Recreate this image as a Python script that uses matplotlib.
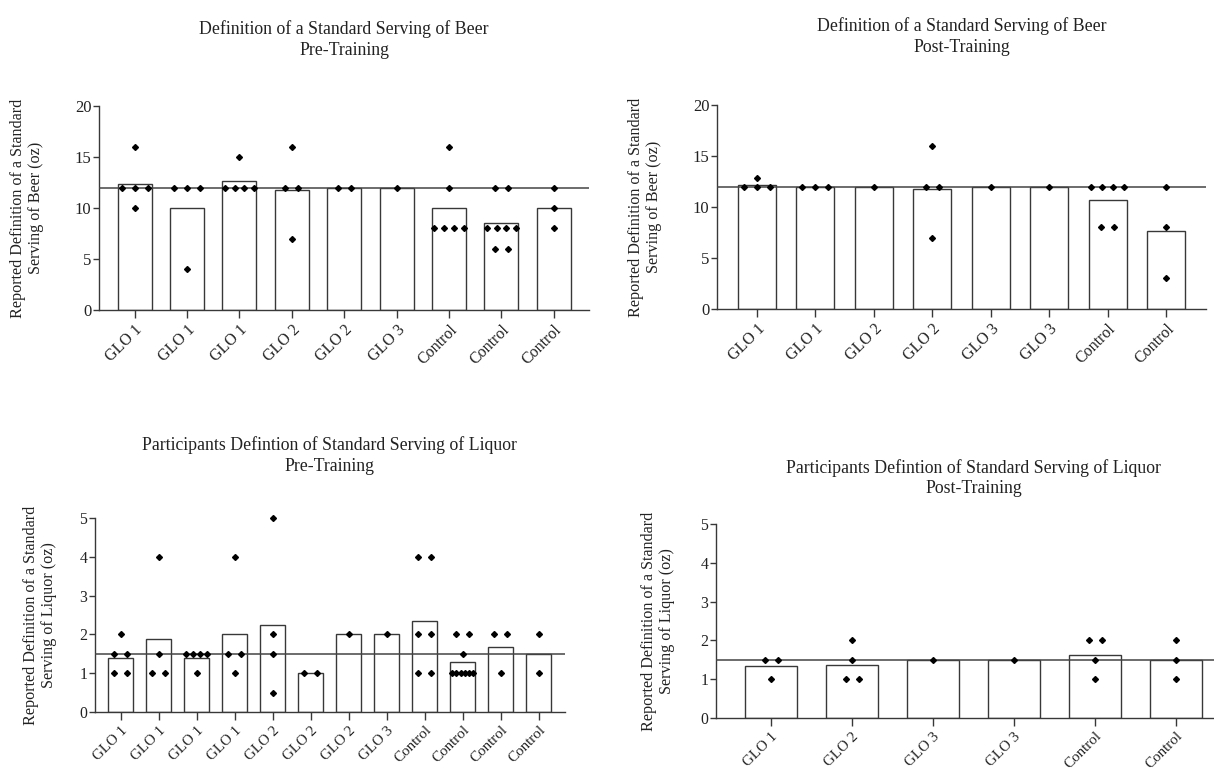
import matplotlib
matplotlib.use("Agg")
import matplotlib.pyplot as plt
import numpy as np

plt.rcParams['font.family'] = ['Liberation Serif', 'DejaVu Serif']

# ---- data ----
beer_pre_labels = ["GLO 1", "GLO 1", "GLO 1", "GLO 2", "GLO 2", "GLO 3",
                   "Control", "Control", "Control"]
beer_pre_values = [[12, 12, 12, 16, 10], [12, 12, 12, 4], [12, 12, 12, 12, 15],
                   [16, 12, 12, 7], [12, 12], [12], [16, 12, 8, 8, 8, 8],
                   [12, 12, 8, 8, 8, 8, 6, 6], [12, 10, 8]]

beer_post_labels = ["GLO 1", "GLO 1", "GLO 2", "GLO 2", "GLO 3", "GLO 3",
                    "Control", "Control"]
beer_post_values = [[12, 12, 12, 12.8], [12, 12, 12], [12], [16, 12, 12, 7],
                    [12], [12], [12, 12, 12, 12, 8, 8], [12, 8, 3]]

liquor_pre_labels = ["GLO 1", "GLO 1", "GLO 1", "GLO 1", "GLO 2", "GLO 2",
                     "GLO 2", "GLO 3", "Control", "Control", "Control", "Control"]
liquor_pre_values = [[2, 1.5, 1.5, 1, 1], [4, 1.5, 1, 1], [1.5, 1.5, 1.5, 1.5, 1],
                     [4, 1.5, 1.5, 1], [5, 2, 1.5, 0.5], [1, 1], [2], [2],
                     [4, 4, 2, 2, 1, 1], [2, 2, 1.5, 1, 1, 1, 1, 1, 1],
                     [2, 2, 1], [2, 1]]

liquor_post_labels = ["GLO 1", "GLO 2", "GLO 3", "GLO 3", "Control", "Control"]
liquor_post_values = [[1.5, 1.5, 1], [2, 1.5, 1, 1], [1.5], [1.5],
                      [2, 2, 1.5, 1], [2, 1.5, 1]]

beer_standard = 12
liquor_standard = 1.5

beer_title = "Definition of a Standard Serving of Beer"
liquor_title = "Participants Defintion of Standard Serving of Liquor"
beer_ylabel = "Reported Definition of a Standard\nServing of Beer (oz)"
liquor_ylabel = "Reported Definition of a Standard\nServing of Liquor (oz)"

W, H = 1214, 774
DARK = "#383838"
PAD = 0.68
BAR_W = 0.65


def make_ax(fig, left_px, top_px, bottom_px, n, unit_px):
    width_px = (n - 1 + 2 * PAD) * unit_px
    return fig.add_axes([left_px / W, (H - bottom_px) / H,
                         width_px / W, (bottom_px - top_px) / H])


def draw_panel(ax, labels, values, standard, ymax, ystep, unit_px,
               title, title_pad, ylabel, ylabel_x, tick_fs):
    n = len(labels)
    x = np.arange(n)
    means = [np.mean(v) for v in values]
    ax.bar(x, means, width=BAR_W, color="white", edgecolor=DARK,
           linewidth=1.0, zorder=2)

    # spread equal values side by side, like the prism scatter
    gap = 13.0 / unit_px
    cap = 0.86 * BAR_W
    for i, vals in enumerate(values):
        uniq = []
        for v in vals:
            if v not in uniq:
                uniq.append(v)
        for v in uniq:
            k = vals.count(v)
            g = gap if k < 2 else min(gap, cap / (k - 1))
            offs = (np.arange(k) - (k - 1) / 2) * g
            ax.plot(i + offs, [v] * k, linestyle="none", marker="D",
                    markersize=3.0, color="black", zorder=4, clip_on=False)

    ax.axhline(standard, color="#444444", linewidth=1.1, zorder=3)
    ax.set_xlim(-PAD, n - 1 + PAD)
    ax.set_ylim(0, ymax)
    ax.set_yticks(np.arange(0, ymax + ystep / 2, ystep))
    ax.set_xticks(x)
    ax.set_xticklabels(labels, rotation=45, ha="right",
                       rotation_mode="anchor", fontsize=tick_fs, color="#222222")
    for lab in ax.get_yticklabels():
        lab.set_fontsize(tick_fs + 0.5)
        lab.set_color("#222222")
    for s in ["top", "right"]:
        ax.spines[s].set_visible(False)
    for s in ["left", "bottom"]:
        ax.spines[s].set_color(DARK)
        ax.spines[s].set_linewidth(1.0)
    ax.tick_params(axis="y", direction="out", length=4.5, width=1.0,
                   color=DARK, pad=1)
    ax.tick_params(axis="x", direction="out", length=5.5, width=1.0,
                   color=DARK, pad=3)
    ax.set_title(title, fontsize=12.8, pad=title_pad, linespacing=1.3,
                 color="#222222")
    ax.set_ylabel(ylabel, fontsize=11.6, linespacing=1.15, color="#222222")
    ax.yaxis.set_label_coords(ylabel_x, 0.5)


fig = plt.figure(figsize=(W / 100, H / 100), dpi=100)
fig.patch.set_facecolor("white")

ax1 = make_ax(fig, 99, 106, 310, len(beer_pre_labels), 52.4)
draw_panel(ax1, beer_pre_labels, beer_pre_values, beer_standard, 20, 5, 52.4,
           beer_title + "\nPre-Training", 37, beer_ylabel, -0.112, 11.5)

ax2 = make_ax(fig, 717, 105, 309, len(beer_post_labels), 58.5)
draw_panel(ax2, beer_post_labels, beer_post_values, beer_standard, 20, 5, 58.5,
           beer_title + "\nPost-Training", 38.5, beer_ylabel, -0.112, 11.5)

ax3 = make_ax(fig, 95, 518, 712, len(liquor_pre_labels), 38.0)
draw_panel(ax3, liquor_pre_labels, liquor_pre_values, liquor_standard, 5, 1, 38.0,
           liquor_title + "\nPre-Training", 34, liquor_ylabel, -0.081, 10.8)

ax4 = make_ax(fig, 716, 524, 718, len(liquor_post_labels), 81.0)
draw_panel(ax4, liquor_post_labels, liquor_post_values, liquor_standard, 5, 1, 81.0,
           liquor_title + "\nPost-Training", 22, liquor_ylabel, -0.080, 10.8)

fig.savefig("out.png", dpi=100)
